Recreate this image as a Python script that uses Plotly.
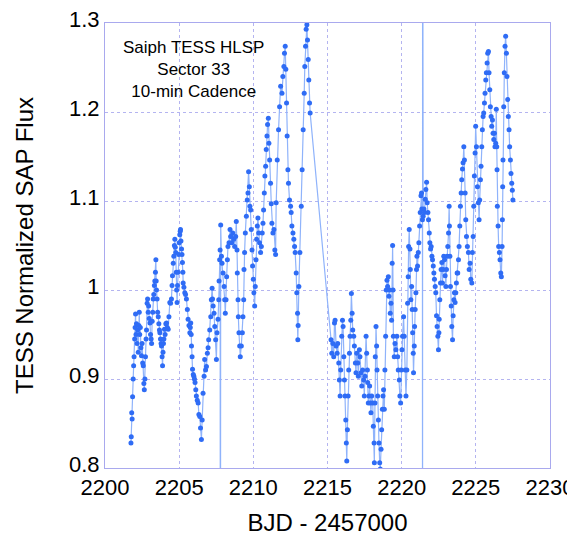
import plotly.graph_objects as go

# Orbit 1 (before the mid-sector gap): BJD - 2457000, normalized SAP flux
orbit1_bjd = [
    2201.75, 2201.77, 2201.80, 2201.83, 2201.86, 2201.90, 2201.93, 2201.96, 2202.00, 2202.03,
    2202.06, 2202.09, 2202.12, 2202.16, 2202.20, 2202.24, 2202.28, 2202.31, 2202.34, 2202.38,
    2202.42, 2202.46, 2202.50, 2202.54, 2202.58, 2202.62, 2202.65, 2202.69, 2202.73, 2202.77,
    2202.80, 2202.84, 2202.87, 2202.91, 2202.94, 2202.98, 2203.03, 2203.07, 2203.11, 2203.14,
    2203.18, 2203.22, 2203.25, 2203.29, 2203.33, 2203.36, 2203.40, 2203.43, 2203.45, 2203.47,
    2203.51, 2203.55, 2203.59, 2203.63, 2203.67, 2203.70, 2203.74, 2203.78, 2203.81, 2203.85,
    2203.88, 2203.91, 2203.94, 2203.97, 2204.01, 2204.05, 2204.10, 2204.15, 2204.20, 2204.26,
    2204.31, 2204.37, 2204.42, 2204.48, 2204.52, 2204.55, 2204.60, 2204.64, 2204.68, 2204.71,
    2204.74, 2204.77, 2204.80, 2204.83, 2204.86, 2204.89, 2204.93, 2204.97, 2205.00, 2205.04,
    2205.07, 2205.09, 2205.12, 2205.16, 2205.19, 2205.22, 2205.25, 2205.27, 2205.32, 2205.38,
    2205.43, 2205.49, 2205.55, 2205.60, 2205.66, 2205.72, 2205.75, 2205.78, 2205.81, 2205.83,
    2205.87, 2205.90, 2205.95, 2205.99, 2206.03, 2206.07, 2206.12, 2206.16, 2206.22, 2206.28,
    2206.33, 2206.39, 2206.44, 2206.50, 2206.55, 2206.61, 2206.68, 2206.72, 2206.78, 2206.84,
    2206.90, 2206.95, 2206.99, 2207.06, 2207.13, 2207.17, 2207.22, 2207.25, 2207.29, 2207.35,
    2207.40, 2207.46, 2207.51, 2207.55, 2207.62, 2207.67, 2207.69, 2207.73, 2207.76, 2207.78,
    2207.80, 2207.85, 2207.89, 2207.96, 2208.03, 2208.07, 2208.11, 2208.16, 2208.20, 2208.25,
    2208.29, 2208.36, 2208.43, 2208.47, 2208.54, 2208.61, 2208.68, 2208.74, 2208.81, 2208.85,
    2208.90, 2208.92, 2208.97, 2208.99, 2209.03, 2209.08, 2209.12, 2209.19, 2209.26, 2209.30,
    2209.35, 2209.37, 2209.41, 2209.46, 2209.53, 2209.59, 2209.64, 2209.68, 2209.73, 2209.77,
    2209.82, 2209.86, 2209.91, 2209.95, 2210.00, 2210.04, 2210.09, 2210.13, 2210.18, 2210.22,
    2210.27, 2210.31, 2210.36, 2210.42, 2210.49, 2210.54, 2210.60, 2210.65, 2210.69, 2210.74,
    2210.78, 2210.83, 2210.87, 2210.92, 2210.96, 2211.01, 2211.05, 2211.10, 2211.16, 2211.21,
    2211.25, 2211.32, 2211.39, 2211.45, 2211.50, 2211.54, 2211.61, 2211.70, 2211.77, 2211.84,
    2211.93, 2211.99, 2212.06, 2212.10, 2212.15, 2212.19, 2212.24, 2212.28, 2212.33, 2212.37,
    2212.44, 2212.51, 2212.55, 2212.60, 2212.67, 2212.73, 2212.78, 2212.82, 2212.89, 2212.93,
    2212.98, 2213.00, 2213.02, 2213.07, 2213.14, 2213.23, 2213.29, 2213.36, 2213.43, 2213.47,
    2213.52, 2213.56, 2213.61, 2213.65, 2213.70, 2213.74, 2213.79, 2213.83,
]
orbit1_flux = [
    0.828, 0.835, 0.862, 0.855, 0.880, 0.900, 0.915, 0.925, 0.945, 0.958,
    0.973, 0.950, 0.962, 0.940, 0.955, 0.930, 0.960, 0.975, 0.950, 0.958,
    0.935, 0.926, 0.940, 0.918, 0.915, 0.895, 0.888, 0.900, 0.925, 0.945,
    0.955, 0.985, 0.990, 0.975, 0.982, 0.968, 0.963, 0.950, 0.945, 0.940,
    0.965, 0.975, 0.990, 0.995, 1.005, 1.010, 1.020, 1.034, 1.010, 1.000,
    0.990, 0.975, 0.970, 0.962, 0.955, 0.952, 0.945, 0.940, 0.937, 0.925,
    0.915, 0.930, 0.940, 0.945, 0.956, 0.950, 0.962, 0.963, 0.958, 0.956,
    0.970, 0.986, 0.985, 0.990, 1.005, 1.016, 1.030, 1.038, 1.050, 1.057,
    1.048, 1.042, 1.020, 1.000, 0.986, 1.005, 1.020, 1.040, 1.053, 1.062,
    1.066, 1.068, 1.055, 1.046, 1.040, 1.031, 1.020, 1.008, 1.003, 0.997,
    0.995, 0.990, 0.978, 0.967, 0.960, 0.952, 0.958, 0.963, 0.950, 0.937,
    0.925, 0.911, 0.905, 0.903, 0.900, 0.896, 0.888, 0.881, 0.876, 0.873,
    0.860, 0.858, 0.845, 0.832, 0.854, 0.884, 0.903, 0.922, 0.910, 0.914,
    0.929, 0.935, 0.944, 0.955, 0.970, 0.989, 1.002, 0.990, 0.982, 0.974,
    0.959, 0.944, 0.922, 0.952, 0.967, 0.989, 1.010, 1.034, 1.045, 0.500,
    1.073, 1.038, 1.030, 1.019, 1.004, 0.989, 0.974, 0.989, 1.015, 1.034,
    1.049, 1.053, 1.068, 1.060, 1.053, 1.064, 1.057, 1.049, 1.060, 1.077,
    1.045, 1.019, 0.989, 0.970, 0.952, 0.937, 0.925, 0.937, 0.952, 0.970,
    0.989, 1.023, 1.042, 1.064, 1.083, 1.101, 1.109, 1.133, 1.116, 1.094,
    1.090, 1.068, 1.045, 1.027, 1.012, 0.997, 0.982, 1.004, 1.034, 1.057,
    1.072, 1.081, 1.064, 1.053, 1.042, 1.049, 1.064, 1.075, 1.090, 1.109,
    1.128, 1.139, 1.158, 1.173, 1.186, 1.193, 1.165, 1.146, 1.120, 1.097,
    1.075, 1.064, 1.068, 1.045, 1.040, 1.098, 1.146, 1.180, 1.206, 1.229,
    1.221, 1.240, 1.251, 1.266, 1.274, 1.248, 1.210, 1.173, 1.135, 1.120,
    1.101, 1.094, 1.087, 1.072, 1.064, 1.057, 1.049, 1.042, 1.019, 0.997,
    0.974, 0.944, 0.960, 1.004, 1.042, 1.094, 1.135, 1.180, 1.221, 1.251,
    1.274, 1.293, 1.298, 1.281, 1.259, 1.236, 1.210, 1.199,
]

# Orbit 2 (after the gap)
orbit2_bjd = [
    2215.24, 2215.29, 2215.36, 2215.42, 2215.47, 2215.51, 2215.58, 2215.65, 2215.69, 2215.76,
    2215.80, 2215.85, 2215.89, 2215.96, 2216.01, 2216.05, 2216.10, 2216.14, 2216.18, 2216.23,
    2216.27, 2216.30, 2216.34, 2216.39, 2216.43, 2216.48, 2216.52, 2216.57, 2216.61, 2216.66,
    2216.70, 2216.77, 2216.81, 2216.88, 2216.92, 2216.97, 2217.04, 2217.08, 2217.15, 2217.19,
    2217.26, 2217.31, 2217.37, 2217.44, 2217.48, 2217.53, 2217.60, 2217.64, 2217.69, 2217.71,
    2217.75, 2217.80, 2217.84, 2217.89, 2217.93, 2217.98, 2218.05, 2218.09, 2218.14, 2218.16,
    2218.20, 2218.22, 2218.27, 2218.31, 2218.34, 2218.38, 2218.43, 2218.47, 2218.52, 2218.56,
    2218.61, 2218.65, 2218.70, 2218.74, 2218.78, 2218.83, 2218.87, 2218.92, 2218.96, 2219.01,
    2219.05, 2219.10, 2219.14, 2219.19, 2219.23, 2219.28, 2219.32, 2219.36, 2219.39, 2219.42,
    2219.44, 2219.50, 2219.55, 2219.61, 2219.68, 2219.73, 2219.77, 2219.84, 2219.88, 2219.93,
    2219.97, 2220.02, 2220.06, 2220.13, 2220.17, 2220.24, 2220.29, 2220.35, 2220.40, 2220.44,
    2220.47, 2220.51, 2220.56, 2220.58, 2220.62, 2220.67, 2220.71, 2220.74, 2220.78, 2220.80,
    2220.85, 2220.87, 2220.91, 2220.96, 2221.00, 2221.03, 2221.07, 2221.12, 2221.16, 2221.21,
    2221.25, 2221.30, 2221.34, 2221.36, 2221.40, 2221.41, 2221.41, 2221.45, 2221.50, 2221.54,
    2221.59, 2221.63, 2221.68, 2221.72, 2221.77, 2221.81, 2221.86, 2221.90, 2221.95, 2221.99,
    2222.04, 2222.08, 2222.13, 2222.17, 2222.21, 2222.26, 2222.30, 2222.35, 2222.39, 2222.44,
    2222.48, 2222.51, 2222.53, 2222.57, 2222.62, 2222.66, 2222.71, 2222.75, 2222.80, 2222.84,
    2222.89, 2222.93, 2222.98, 2223.02, 2223.07, 2223.11, 2223.16, 2223.20, 2223.22, 2223.25,
    2223.29, 2223.34, 2223.38, 2223.43, 2223.47, 2223.52, 2223.56, 2223.60, 2223.65, 2223.69,
    2223.74, 2223.78, 2223.83, 2223.87, 2223.92, 2223.96, 2224.01, 2224.05, 2224.10, 2224.14,
    2224.19, 2224.23, 2224.28, 2224.32, 2224.37, 2224.43, 2224.50, 2224.55, 2224.61, 2224.66,
    2224.73, 2224.77, 2224.82, 2224.86, 2224.90, 2224.95, 2224.99, 2225.04, 2225.11, 2225.17,
    2225.22, 2225.26, 2225.31, 2225.35, 2225.40, 2225.44, 2225.49, 2225.53, 2225.58, 2225.62,
    2225.67, 2225.71, 2225.76, 2225.80, 2225.85, 2225.89, 2225.94, 2225.98, 2226.03, 2226.07,
    2226.12, 2226.16, 2226.21, 2226.25, 2226.29, 2226.34, 2226.38, 2226.41, 2226.43, 2226.45,
    2226.50, 2226.54, 2226.59, 2226.63, 2226.68, 2226.72, 2226.77, 2226.79, 2226.81, 2226.83,
    2226.88, 2226.92, 2226.97, 2227.01, 2227.06, 2227.10, 2227.15, 2227.19, 2227.24, 2227.28,
    2227.33, 2227.37, 2227.42, 2227.46, 2227.50,
]
orbit2_flux = [
    0.944, 0.929, 0.940, 0.925, 0.963, 0.966, 0.937, 0.929, 0.940, 0.918,
    0.899, 0.881, 0.910, 0.948, 0.966, 0.959, 0.925, 0.899, 0.881, 0.854,
    0.828, 0.808, 0.843, 0.881, 0.910, 0.929, 0.948, 0.966, 0.996, 0.974,
    0.955, 0.948, 0.937, 0.918, 0.907, 0.929, 0.918, 0.903, 0.933, 0.925,
    0.907, 0.892, 0.910, 0.899, 0.881, 0.903, 0.948, 0.929, 0.910, 0.896,
    0.873, 0.881, 0.892, 0.873, 0.862, 0.881, 0.873, 0.847, 0.828, 0.806,
    0.873, 0.925, 0.959, 0.937, 0.910, 0.881, 0.854, 0.828, 0.806, 0.799,
    0.821, 0.843, 0.866, 0.881, 0.888, 0.866, 0.910, 0.948, 1.000, 1.011,
    1.004, 1.015, 0.993, 1.000, 0.974, 0.985, 0.966, 1.030, 1.050, 1.000,
    0.948, 0.925, 0.940, 0.933, 0.948, 0.925, 0.910, 0.899, 0.881, 0.873,
    0.910, 0.933, 0.948, 0.970, 0.948, 0.910, 0.881, 0.910, 0.985, 1.015,
    1.049, 1.068, 1.046, 1.023, 0.989, 1.004, 0.978, 0.952, 0.929, 0.907,
    0.937, 0.959, 0.978, 0.997, 1.023, 1.038, 1.027, 1.042, 1.053, 1.072,
    1.087, 1.106, 1.109, 1.091, 1.079, 0.500, 1.600, 1.083, 1.091, 1.087,
    1.102, 1.113, 1.121, 1.098, 1.087, 1.079, 1.064, 1.053, 1.046, 1.049,
    1.038, 1.034, 1.027, 1.019, 1.012, 1.004, 0.997, 0.971, 0.959, 0.948,
    0.933, 0.952, 0.967, 0.989, 1.008, 1.023, 1.031, 1.008, 1.023, 1.038,
    1.034, 1.016, 1.004, 1.023, 1.038, 1.049, 1.064, 1.094, 1.072, 1.038,
    1.004, 0.982, 0.959, 0.944, 0.971, 0.989, 0.997, 0.986, 0.997, 1.008,
    1.019, 1.019, 1.034, 1.049, 1.072, 1.094, 1.109, 1.124, 1.136, 1.143,
    1.161, 1.146, 1.109, 1.079, 1.060, 1.049, 1.042, 1.023, 1.030, 1.012,
    1.008, 1.042, 1.060, 1.094, 1.128, 1.154, 1.184, 1.161, 1.116, 1.098,
    1.079, 1.101, 1.124, 1.139, 1.161, 1.180, 1.195, 1.199, 1.210, 1.221,
    1.236, 1.244, 1.255, 1.266, 1.268, 1.244, 1.225, 1.206, 1.195, 1.184,
    1.191, 1.176, 1.169, 1.176, 1.161, 1.165, 1.203, 1.161, 1.135, 1.094,
    1.072, 1.049, 1.042, 1.034, 1.019, 1.015, 1.049, 1.079, 1.116, 1.146,
    1.206, 1.244, 1.274, 1.285, 1.266, 1.240, 1.214, 1.195, 1.180, 1.161,
    1.146, 1.131, 1.120, 1.112, 1.101,
]

x_ticks = [2200, 2205, 2210, 2215, 2220, 2225, 2230]
y_ticks = [0.8, 0.9, 1.0, 1.1, 1.2, 1.3]
y_tick_text = ["0.8", "0.9", "1", "1.1", "1.2", "1.3"]
label_lines = ["Saiph TESS HLSP", "Sector 33", "10-min Cadence"]

bjd = orbit1_bjd + orbit2_bjd
flux = orbit1_flux + orbit2_flux

FONT = "Liberation Sans, Arial, sans-serif"
FRAME = "#a9a9ee"
GRID = "#b4b4f0"

fig = go.Figure()
fig.add_trace(go.Scatter(
    x=bjd, y=flux, mode="lines+markers",
    line=dict(color="#8fb3fb", width=1.2),
    marker=dict(color="#2f6cf5", size=5, line=dict(width=0)),
    hoverinfo="skip", showlegend=False,
))

fig.add_annotation(
    x=2205.96, y=1.248, xref="x", yref="y",
    text="<br>".join(label_lines), showarrow=False,
    font=dict(family=FONT, size=17, color="#000000"), align="center",
)

# the page body adds an 8px offset, so margins are shifted by 8px
fig.update_layout(
    width=575, height=528,
    margin=dict(l=97, r=33, t=15, b=68),
    paper_bgcolor="white", plot_bgcolor="white",
    font=dict(family=FONT, color="#000000"),
)
fig.update_xaxes(
    range=[2200, 2230], tickvals=x_ticks, ticktext=[str(v) for v in x_ticks],
    showgrid=True, gridcolor=GRID, griddash="dot", gridwidth=1,
    showline=True, linecolor=FRAME, linewidth=1, mirror=True,
    ticks="", zeroline=False, tickfont=dict(size=22), automargin=False,
    ticklabeloverflow="allow",
    title=dict(text="BJD - 2457000", font=dict(size=24), standoff=16),
)
fig.update_yaxes(
    range=[0.8, 1.3], tickvals=y_ticks, ticktext=y_tick_text,
    showgrid=True, gridcolor=GRID, griddash="dot", gridwidth=1,
    showline=True, linecolor=FRAME, linewidth=1, mirror=True,
    ticks="", zeroline=False, tickfont=dict(size=22), automargin=False,
    ticklabeloverflow="allow", ticklabelshift=-4,
    title=dict(text="TESS Normalized SAP Flux", font=dict(size=24), standoff=28),
)

fig.write_html("out.html")
